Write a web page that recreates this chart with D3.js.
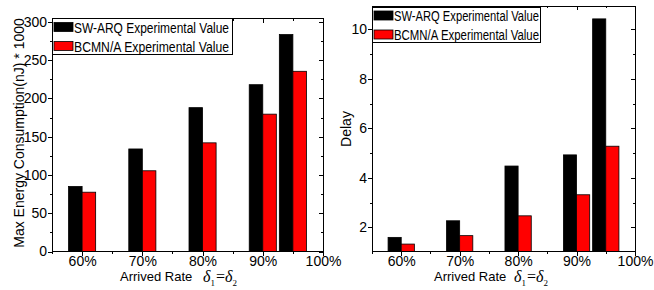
<!DOCTYPE html>
<html>
<head>
<meta charset="utf-8">
<script src="https://cdn.jsdelivr.net/npm/d3@7"></script>
<style>
  body { margin: 0; background: #fff; }
  svg text { font-family: "Liberation Sans", Arial, sans-serif; }
  .axis path, .axis line { stroke: #000; shape-rendering: crispEdges; }
  .axis text { font-size: 14px; fill: #000; }
</style>
</head>
<body>
<svg id="plotarea" width="654" height="290"></svg>
<script>
// arrival rates; the last group is drawn at 95 on the axis (between 90% and 100%)
var rates = [60, 70, 80, 90, 95];
var xMajor = [60, 70, 80, 90, 100];
var xMinor = [55, 65, 75, 85, 95];
var xLabels = ["60%", "70%", "80%", "90%", "100%"];
var seriesNames = ["SW-ARQ Experimental Value", "BCMN/A Experimental Value"];
var seriesColors = ["#000000", "#ff0000"];

// left panel: max energy consumption
var energySW = [85, 134, 188, 218, 283.5];
var energyBC = [77.5, 105.5, 142, 179.5, 235.5];
var energyMajor = [0, 50, 100, 150, 200, 250, 300];
var energyMinor = [25, 75, 125, 175, 225, 275];

// right panel: delay
var delaySW = [1.6, 2.27, 4.48, 4.93, 10.42];
var delayBC = [1.33, 1.67, 2.47, 3.32, 5.28];
var delayMajor = [2, 4, 6, 8, 10];
var delayMinor = [3, 5, 7, 9];

var svg = d3.select("#plotarea");

function drawPanel(p) {
    var x = d3.scaleLinear().domain([55, 100]).range([p.left, p.right]);
    var y = d3.scaleLinear().domain(p.yDomain).range([p.bottom, p.top]);
    var g = svg.append("g");
    var barW = x(57.25) - x(55);

    // bars: black left of the rate, red right of it
    [p.sw, p.bc].forEach(function (vals, s) {
        g.selectAll(".bar" + s)
            .data(vals)
            .enter()
            .append("rect")
            .attr("x", function (d, i) { return s == 0 ? x(rates[i]) - barW : x(rates[i]); })
            .attr("y", function (d) { return y(d); })
            .attr("width", barW)
            .attr("height", function (d) { return p.bottom - y(d); })
            .attr("fill", seriesColors[s])
            .attr("stroke", "#000")
            .attr("stroke-width", 0.8);
    });

    // axes: bottom / left ticks point out, top / right point in
    g.append("g").attr("class", "axis").attr("transform", "translate(0," + p.bottom + ")")
        .call(d3.axisBottom(x).tickValues(xMajor).tickSize(4).tickPadding(1)
            .tickFormat(function (d, i) { return xLabels[i]; }));
    g.append("g").attr("class", "axis").attr("transform", "translate(0," + p.bottom + ")")
        .call(d3.axisBottom(x).tickValues(xMinor).tickSize(2).tickFormat(""));
    g.append("g").attr("class", "axis").attr("transform", "translate(0," + p.top + ")")
        .call(d3.axisTop(x).tickValues(xMajor).tickSize(-4).tickFormat(""));
    g.append("g").attr("class", "axis").attr("transform", "translate(0," + p.top + ")")
        .call(d3.axisTop(x).tickValues(xMinor).tickSize(-2).tickFormat(""));

    g.append("g").attr("class", "axis").attr("transform", "translate(" + p.left + ",0)")
        .call(d3.axisLeft(y).tickValues(p.yMajor).tickSize(4).tickPadding(1));
    g.append("g").attr("class", "axis").attr("transform", "translate(" + p.left + ",0)")
        .call(d3.axisLeft(y).tickValues(p.yMinor).tickSize(2).tickFormat(""));
    g.append("g").attr("class", "axis").attr("transform", "translate(" + p.right + ",0)")
        .call(d3.axisRight(y).tickValues(p.yMajor).tickSize(-4).tickFormat(""));
    g.append("g").attr("class", "axis").attr("transform", "translate(" + p.right + ",0)")
        .call(d3.axisRight(y).tickValues(p.yMinor).tickSize(-2).tickFormat(""));
    g.selectAll(".axis .domain").remove();

    // frame
    g.append("rect")
        .attr("x", p.left).attr("y", p.top)
        .attr("width", p.right - p.left).attr("height", p.bottom - p.top)
        .attr("fill", "none").attr("stroke", "#000").attr("stroke-width", 1)
        .style("shape-rendering", "crispEdges");

    // y title
    g.append("text")
        .attr("transform", "translate(" + p.yTitleX + "," + p.yTitleY + ") rotate(-90)")
        .attr("text-anchor", "middle")
        .style("font-size", "14px")
        .text(p.yTitle);

    // x title with the delta formula
    g.append("text")
        .attr("x", p.xTitleX).attr("y", 281)
        .style("font-size", "13px")
        .text("Arrived Rate");
    var f = g.append("text")
        .attr("x", p.deltaX).attr("y", 282)
        .style("font-family", "'Liberation Serif', 'Times New Roman', serif")
        .style("font-size", "16px");
    f.append("tspan").style("font-style", "italic").text("\u03b4");
    f.append("tspan").attr("dy", 4).style("font-size", "9px").text("1");
    f.append("tspan").attr("dy", -4).attr("dx", 1).text("=");
    f.append("tspan").style("font-style", "italic").text("\u03b4");
    f.append("tspan").attr("dy", 4).style("font-size", "9px").text("2");

    // legend
    var lg = g.append("g");
    lg.append("rect")
        .attr("x", p.left).attr("y", p.legTop)
        .attr("width", p.legW).attr("height", 35.5)
        .attr("fill", "#fff").attr("stroke", "#000").attr("stroke-width", 1)
        .style("shape-rendering", "crispEdges");
    seriesNames.forEach(function (name, i) {
        lg.append("rect")
            .attr("x", p.left + 2).attr("y", p.legTop + 4 + i * 19)
            .attr("width", 19).attr("height", 9)
            .attr("fill", seriesColors[i]).attr("stroke", "#000").attr("stroke-width", 0.8);
        lg.append("text")
            .attr("x", p.left + 22).attr("y", p.legTop + 14 + i * 19)
            .style("font-size", "14px")
            .attr("textLength", p.legTextW).attr("lengthAdjust", "spacingAndGlyphs")
            .text(name);
    });
}

drawPanel({
    left: 52, right: 323, top: 18.5, bottom: 251.5,
    yDomain: [0, 304.5], yMajor: energyMajor, yMinor: energyMinor,
    sw: energySW, bc: energyBC,
    yTitle: "Max Energy Consumption(nJ) * 1000", yTitleX: 24, yTitleY: 133,
    xTitleX: 120, deltaX: 203,
    legTop: 18.5, legW: 180, legTextW: 155
});

drawPanel({
    left: 372, right: 635, top: 6, bottom: 251.5,
    yDomain: [1.03, 10.94], yMajor: delayMajor, yMinor: delayMinor,
    sw: delaySW, bc: delayBC,
    yTitle: "Delay", yTitleX: 351, yTitleY: 129,
    xTitleX: 434, deltaX: 514,
    legTop: 7, legW: 168, legTextW: 145
});
</script>
</body>
</html>
